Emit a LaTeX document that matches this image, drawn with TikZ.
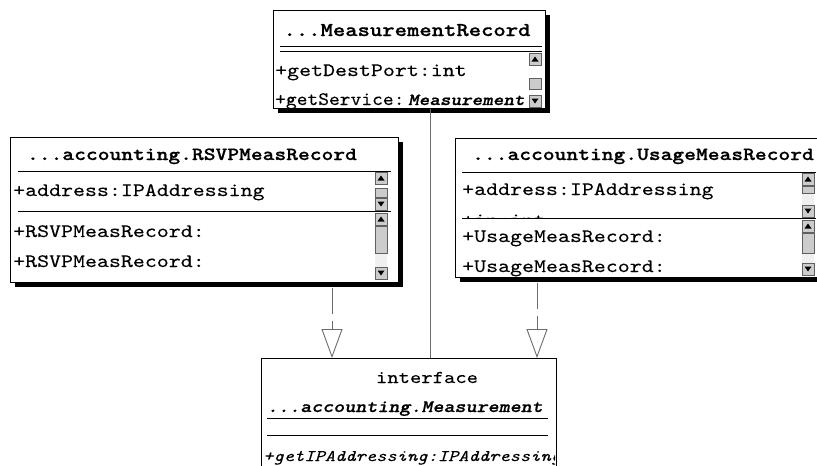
\documentclass[tikz,border=0pt]{standalone}
\usepackage{fontspec}
\usepackage{graphicx}
\newfontfamily\lmr{lmmono10-regular.otf}[FakeStretch=1.2, FakeBold=0.15]
\newfontfamily\lmri{lmmono10-italic.otf}[FakeStretch=1.2, FakeBold=0.15]
\newfontfamily\lmb{lmmonolt10-bold.otf}[FakeStretch=1.2, FakeBold=0.7]
\newfontfamily\lmbi{lmmonolt10-boldoblique.otf}[FakeStretch=1.2, FakeBold=0.7]
\usetikzlibrary{arrows.meta,shadows}
\begin{document}
\begin{tikzpicture}[x=1pt,y=-1pt,
  box/.style={draw=black, line width=0.9pt, fill=white, inner sep=0pt, anchor=north west},
  shad/.style={drop shadow={shadow xshift=4.5pt, shadow yshift=-4.5pt, fill=black, opacity=1}},
  sepline/.style={draw=black, line width=0.9pt},
  txt/.style={anchor=base west, inner sep=0pt, font=\lmr\fontsize{19}{24}\selectfont},
  ttl/.style={anchor=base, inner sep=0pt, font=\lmb\fontsize{18.7}{24}\selectfont},
  sbfr/.style={draw=gray!75!black, fill=gray!40, line width=0.7pt},
  sbtrack/.style={fill=gray!12},
  sbup/.pic={\draw[sbfr] (0,0) rectangle (12,12); \fill[black] (2.5,8.5) -- (9.5,8.5) -- (6,3.5) -- cycle;},
  sbdn/.pic={\draw[sbfr] (0,0) rectangle (12,12); \fill[black] (2.5,3.5) -- (9.5,3.5) -- (6,8.5) -- cycle;},
  dep/.style={draw=gray!85!black, line width=0.9pt, dash pattern=on 26pt off 7pt,
    -{Triangle[open, length=29pt, width=21pt, line width=0.9pt]}},
  assoc/.style={draw=gray!85!black, line width=0.9pt}
]
\useasboundingbox (0,0) rectangle (817,466);
\fill[white] (0,0) rectangle (817,466);
\clip (0,0) rectangle (817,466);

% ---------- boxes ----------
\node[box, shad, minimum width=272pt, minimum height=98pt] (tbox) at (273,10) {};
\node[box, shad, minimum width=388pt, minimum height=145pt] (lbox) at (10,137) {};
\node[box, shad, minimum width=363pt, minimum height=139pt] (rbox) at (455,138) {};
\node[box, minimum width=295pt, minimum height=140pt] (bbox) at (261,358) {};

% ---------- top box: MeasurementRecord ----------
\node[ttl, font=\lmb\fontsize{19.6}{24}\selectfont] (ttop) at (407,36) {...MeasurementRecord};
\draw[sepline] (280,46) -- (542,46);
\draw[sepline] (280,51) -- (542,51);
\begin{scope}
\clip (274,52) rectangle (528,107);
\node[txt] (top1) at (275,76) {+getDestPort:int};
\node[txt] (top2) at (275,105) {\scalebox{0.9}[1]{+getService:}};
\node[txt, font=\lmbi\fontsize{16.8}{24}\selectfont] (top3) at (408,105) {Measurement};
\end{scope}
\pic at (529,53) {sbup};
\draw[sbfr] (529,78) rectangle (541,89);
\pic at (529,95) {sbdn};

% ---------- left box: RSVPMeasRecord ----------
\node[ttl] (tleft) at (192,160) {...accounting.RSVPMeasRecord};
\draw[sepline] (18,171) -- (391,171);
\draw[sepline] (18,211) -- (391,211);
\node[txt] (l1) at (13,196) {+address:IPAddressing};
\node[txt] (l2) at (13,237) {+RSVPMeasRecord:};
\node[txt] (l3) at (13,267) {+RSVPMeasRecord:};
\pic at (375,172) {sbup};
\draw[sbfr] (375,188) rectangle (387,197);
\pic at (375,198) {sbdn};
\pic at (375,213) {sbup};
\fill[sbtrack] (375,253) rectangle (387,267);
\draw[sbfr] (375,226) rectangle (387,253);
\pic at (375,267) {sbdn};

% ---------- right box: UsageMeasRecord ----------
\node[ttl] (tright) at (643,160) {...accounting.UsageMeasRecord};
\draw[sepline] (462,172) -- (816,172);
\draw[sepline] (462,218) -- (816,218);
\node[txt] (r1) at (462,195) {+address:IPAddressing};
\begin{scope}
\clip (456,173) rectangle (800,217.5);
\node[txt] (r2) at (462,226) {+in:int};
\end{scope}
\node[txt] (r3) at (462,242) {+UsageMeasRecord:};
\node[txt] (r4) at (462,272) {+UsageMeasRecord:};
\pic at (802,173) {sbup};
\fill[sbtrack] (802,193) rectangle (814,205);
\draw[sbfr] (802,186) rectangle (814,193);
\pic at (802,205) {sbdn};
\pic at (802,220) {sbup};
\fill[sbtrack] (802,253) rectangle (814,263);
\draw[sbfr] (802,233) rectangle (814,253);
\pic at (802,263) {sbdn};

% ---------- bottom box: interface Measurement ----------
\node[anchor=base, inner sep=0pt, font=\lmr\fontsize{18}{24}\selectfont] (stereo) at (427,383) {interface};
\node[ttl, font=\lmbi\fontsize{17.5}{24}\selectfont] (tbot) at (405,412) {...accounting.Measurement};
\draw[sepline] (267,418) -- (548,418);
\draw[sepline] (267,435) -- (548,435);
\begin{scope}
\clip (262,436) rectangle (555,466);
\node[txt, font=\lmri\fontsize{16.3}{24}\selectfont] (b1) at (263,461) {+getIPAddressing:IPAddressing};
\end{scope}

% ---------- connectors ----------
\coordinate (cl) at (332,0);
\coordinate (cr) at (537,0);
\coordinate (cm) at (430,0);
\draw[assoc] (tbox.south -| cm) -- (bbox.north -| cm);
\draw[dep, shorten <=5pt] (lbox.south -| cl) -- (bbox.north -| cl);
\draw[dep, shorten <=5pt] (rbox.south -| cr) -- (bbox.north -| cr);
\end{tikzpicture}
\end{document}
